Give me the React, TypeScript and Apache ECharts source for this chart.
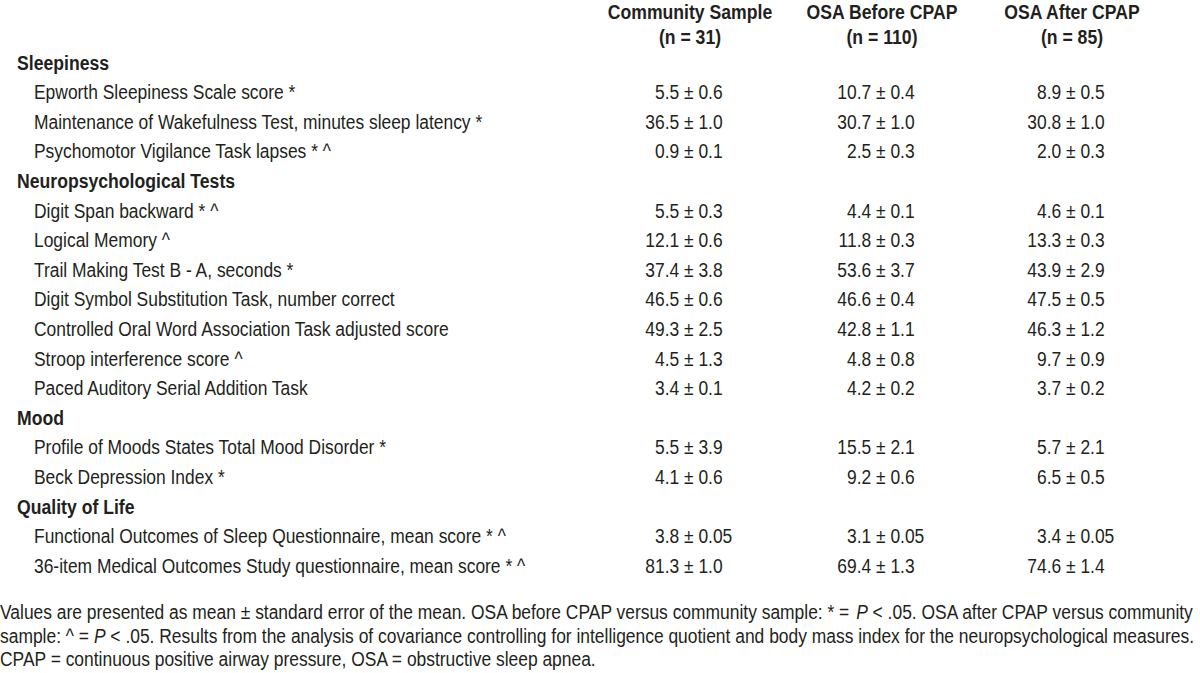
import React, { useEffect, useRef } from "react";
import * as echarts from "echarts";

const groupNames = ["Community Sample", "OSA Before CPAP", "OSA After CPAP"];
const groupN = [31, 110, 85];
const sectionNames = ["Sleepiness", "Neuropsychological Tests", "Mood", "Quality of Life"];
const measureNames = [
  "Epworth Sleepiness Scale score",
  "Maintenance of Wakefulness Test, minutes sleep latency",
  "Psychomotor Vigilance Task lapses",
  "Digit Span backward",
  "Logical Memory",
  "Trail Making Test B - A, seconds",
  "Digit Symbol Substitution Task, number correct",
  "Controlled Oral Word Association Task adjusted score",
  "Stroop interference score",
  "Paced Auditory Serial Addition Task",
  "Profile of Moods States Total Mood Disorder",
  "Beck Depression Index",
  "Functional Outcomes of Sleep Questionnaire, mean score",
  "36-item Medical Outcomes Study questionnaire, mean score",
];
const measureSection = [0, 0, 0, 1, 1, 1, 1, 1, 1, 1, 2, 2, 3, 3];
const measureMarks = ["*", "*", "* ^", "* ^", "^", "*", "", "", "^", "", "*", "*", "* ^", "* ^"];
const communityMean = [5.5, 36.5, 0.9, 5.5, 12.1, 37.4, 46.5, 49.3, 4.5, 3.4, 5.5, 4.1, 3.8, 81.3];
const communitySE = [0.6, 1.0, 0.1, 0.3, 0.6, 3.8, 0.6, 2.5, 1.3, 0.1, 3.9, 0.6, 0.05, 1.0];
const beforeMean = [10.7, 30.7, 2.5, 4.4, 11.8, 53.6, 46.6, 42.8, 4.8, 4.2, 15.5, 9.2, 3.1, 69.4];
const beforeSE = [0.4, 1.0, 0.3, 0.1, 0.3, 3.7, 0.4, 1.1, 0.8, 0.2, 2.1, 0.6, 0.05, 1.3];
const afterMean = [8.9, 30.8, 2.0, 4.6, 13.3, 43.9, 47.5, 46.3, 9.7, 3.7, 5.7, 6.5, 3.4, 74.6];
const afterSE = [0.5, 1.0, 0.3, 0.1, 0.3, 2.9, 0.5, 1.2, 0.9, 0.2, 2.1, 0.5, 0.05, 1.4];
const footnoteLines = [
  "Values are presented as mean \u00b1 standard error of the mean. OSA before CPAP versus community sample: * = {i|P} < .05. OSA after CPAP versus community",
  "sample: ^ = {i|P} < .05. Results from the analysis of covariance controlling for intelligence quotient and body mass index for the neuropsychological measures.",
  "CPAP = continuous positive airway pressure, OSA = obstructive sleep apnea.",
];

const FONT = "'Liberation Sans', Arial, sans-serif";
const COLOR = "#231f20";
const SX_REG = 0.83;
const SX_BOLD = 0.84;
const SIZE = 21;

function fmtSE(v: number) {
  return v < 0.1 ? v.toFixed(2) : v.toFixed(1);
}

function txt(x: number, y: number, text: string, align: string, bold = false, rich?: any) {
  return {
    type: "text",
    x,
    y,
    scaleX: bold ? SX_BOLD : SX_REG,
    silent: true,
    style: {
      x: 0,
      y: 0,
      text,
      fill: COLOR,
      fontFamily: FONT,
      fontSize: SIZE,
      fontWeight: bold ? "bold" : "normal",
      textAlign: align,
      textVerticalAlign: "middle",
      rich,
    },
  };
}

export default function App() {
  const ref = useRef<HTMLDivElement>(null);
  useEffect(() => {
    document.body.style.margin = "0";
    const chart = echarts.init(ref.current!, null, { renderer: "svg" });
    const els: any[] = [];
    const headerCenters = [690, 882, 1072];
    const pmX = [684, 876, 1066];
    groupNames.forEach((g, i) => {
      els.push(txt(headerCenters[i], 11, g, "center", true));
      els.push(txt(headerCenters[i], 36, `(n = ${groupN[i]})`, "center", true));
    });
    const means = [communityMean, beforeMean, afterMean];
    const ses = [communitySE, beforeSE, afterSE];
    const rowH = 29.6;
    const y0 = 62.5;
    let row = 0;
    let lastSection = -1;
    measureNames.forEach((m, k) => {
      if (measureSection[k] !== lastSection) {
        lastSection = measureSection[k];
        els.push(txt(17, y0 + row * rowH, sectionNames[lastSection], "left", true));
        row++;
      }
      const y = y0 + row * rowH;
      els.push(txt(34, y, measureMarks[k] ? `${m} ${measureMarks[k]}` : m, "left"));
      for (let c = 0; c < 3; c++) {
        els.push(txt(pmX[c], y, `${means[c][k].toFixed(1)} `, "right"));
        els.push(txt(pmX[c], y, `\u00b1 ${fmtSE(ses[c][k])}`, "left"));
      }
      row++;
    });
    const italic = { i: { fontStyle: "italic", fontFamily: FONT, fontSize: SIZE, fill: COLOR } };
    footnoteLines.forEach((l, i) => {
      els.push(txt(0, 612 + i * 23.5, l, "left", false, italic));
    });
    chart.setOption({
      animation: false,
      backgroundColor: "#ffffff",
      graphic: { elements: els },
    });
    return () => chart.dispose();
  }, []);
  return <div ref={ref} style={{ width: 1200, height: 673 }} />;
}
